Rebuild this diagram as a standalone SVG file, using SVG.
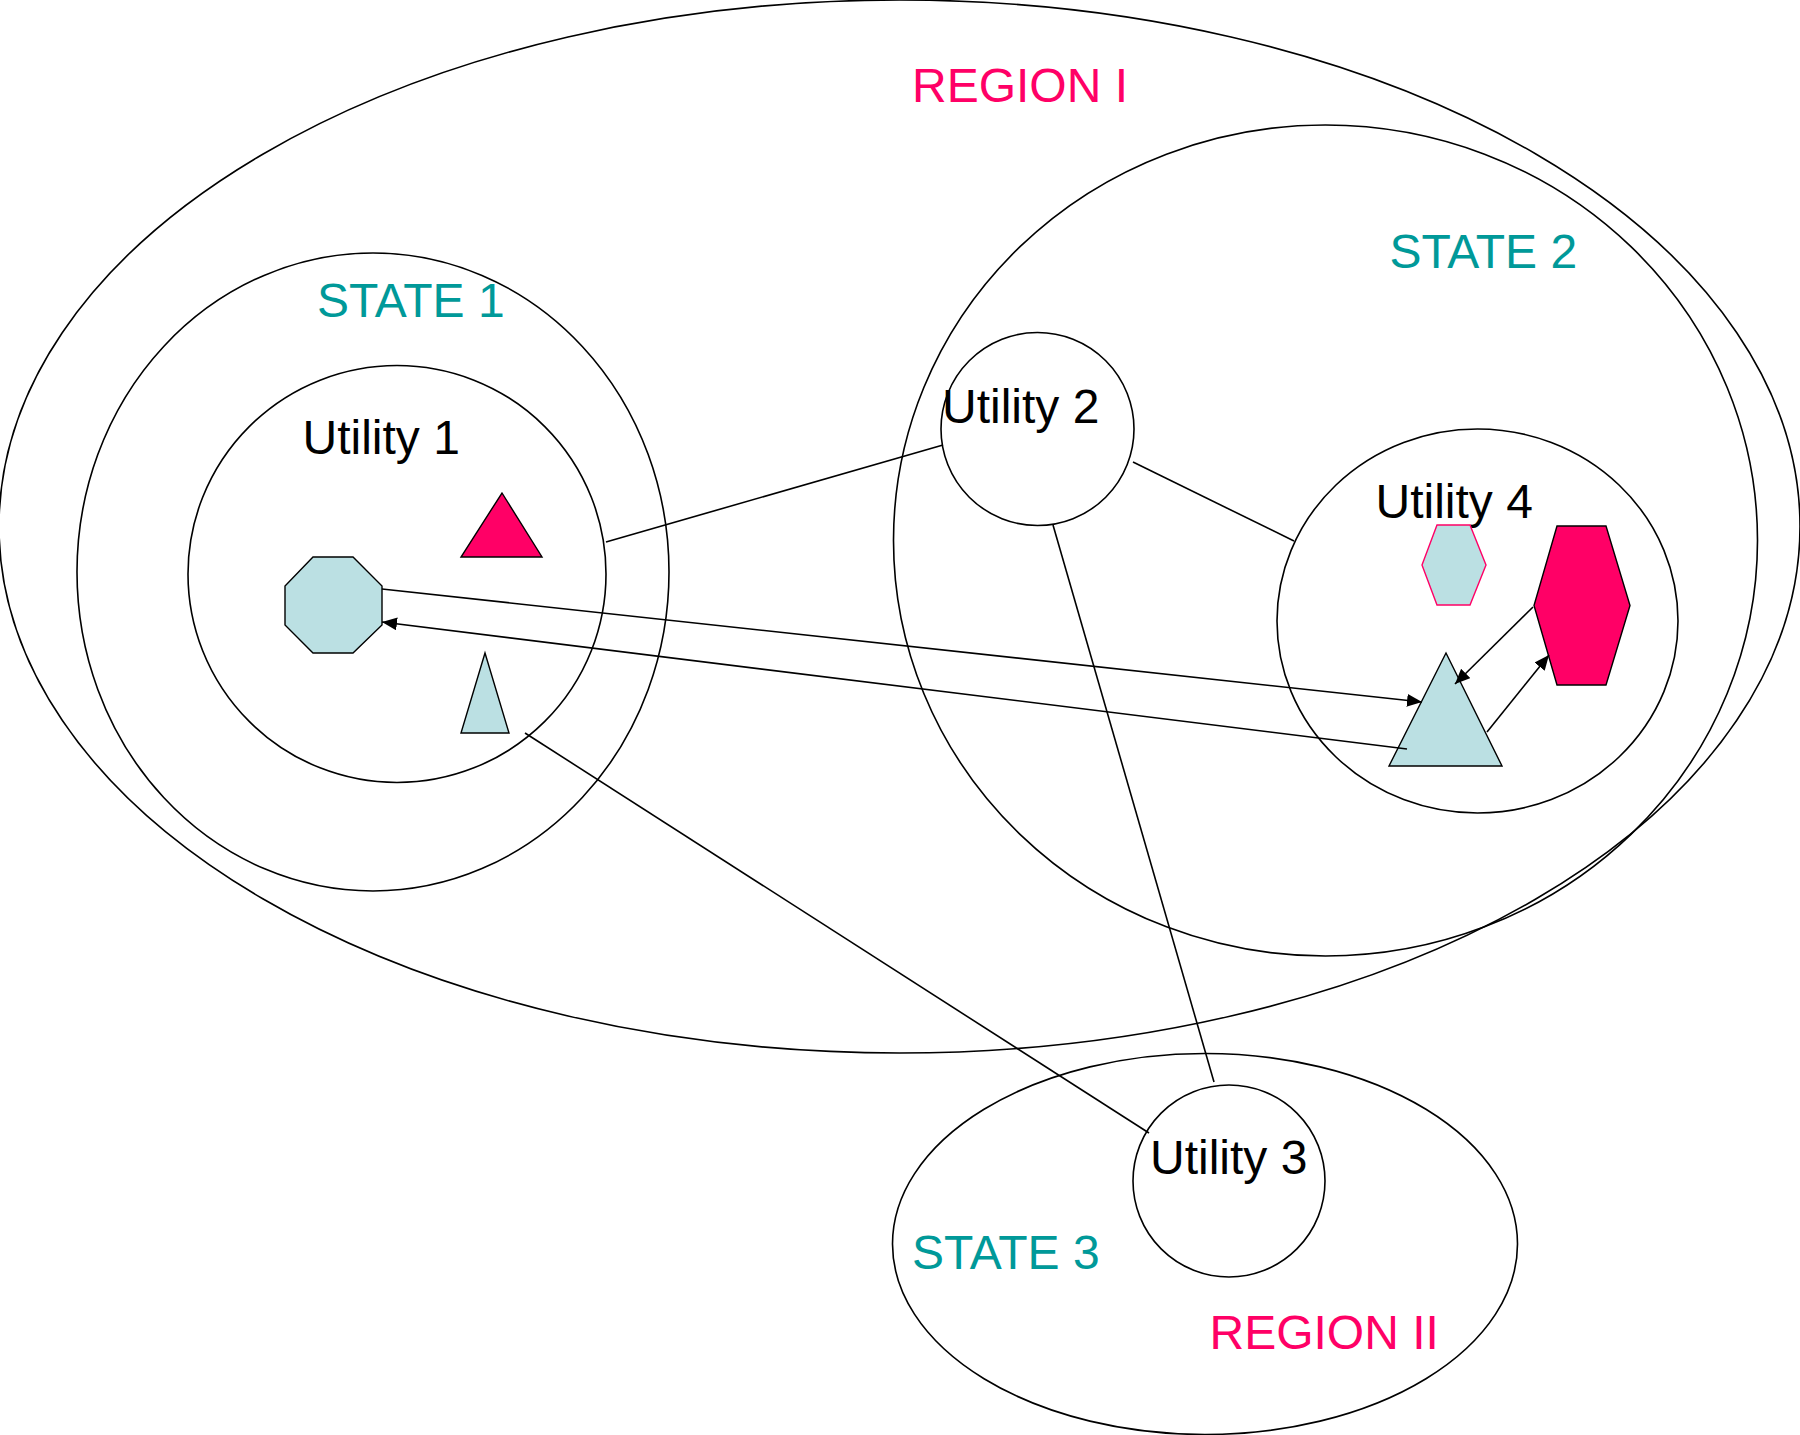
<svg xmlns="http://www.w3.org/2000/svg" width="1800" height="1435" viewBox="0 0 1800 1435">
<style>
.ring{fill:none;stroke:#000;stroke-width:1.6}
.lbl{font-family:"Liberation Sans",Arial,sans-serif;font-size:48px}
.blk{fill:#000}
.teal{fill:#009999}
.pink{fill:#FF0066}
.conn{stroke:#000;stroke-width:1.6;fill:none}
.shape{stroke:#000;stroke-width:1.4}
</style>
<defs>
<marker id="arr" markerUnits="userSpaceOnUse" markerWidth="16" markerHeight="14" refX="15" refY="6.5" orient="auto">
<path d="M0,0 L15,6.5 L0,13 z" fill="#000"/>
</marker>
</defs>
<rect width="1800" height="1435" fill="#fff"/>
<g id="region1">
<ellipse class="ring" cx="899.5" cy="526.5" rx="900.5" ry="526.5"/>
<text class="lbl pink" x="912" y="102">REGION I</text>
</g>
<g id="state1">
<ellipse class="ring" cx="373" cy="572" rx="296" ry="319"/>
<text class="lbl teal" x="317" y="317">STATE 1</text>
</g>
<g id="state2">
<ellipse class="ring" cx="1325.5" cy="540.5" rx="432" ry="415.5"/>
<text class="lbl teal" x="1389.5" y="268">STATE 2</text>
</g>
<g id="region2">
<ellipse class="ring" cx="1205" cy="1244" rx="312.5" ry="190.5"/>
<text class="lbl teal" x="912" y="1269">STATE 3</text>
<text class="lbl pink" x="1209.5" y="1349">REGION II</text>
</g>
<g id="utility1">
<ellipse class="ring" cx="397" cy="574" rx="209" ry="208.5"/>
<text class="lbl blk" x="302.5" y="454">Utility 1</text>
<polygon class="shape" fill="#BBE0E3" points="313,557 353,557 382,586 382,625 353,653 313,653 285,625 285,586"/>
<polygon class="shape" fill="#FF0066" points="502,493 542,557 461,557"/>
<polygon class="shape" fill="#BBE0E3" points="485,653 509,733 461,733"/>
</g>
<g id="utility2">
<circle class="ring" cx="1037.5" cy="429" r="96.5"/>
<text class="lbl blk" x="942" y="423">Utility 2</text>
</g>
<g id="utility3">
<circle class="ring" cx="1229" cy="1181" r="96"/>
<text class="lbl blk" x="1150" y="1174">Utility 3</text>
</g>
<g id="utility4">
<ellipse class="ring" cx="1477.5" cy="621" rx="200.5" ry="192"/>
<text class="lbl blk" x="1375.5" y="518">Utility 4</text>
<polygon fill="#BBE0E3" stroke="#FF0066" stroke-width="1.4" points="1437,525 1470,525 1486,565 1470,605 1437,605 1422,565"/>
<polygon class="shape" fill="#FF0066" points="1557,526 1606,526 1630,605.5 1606,685 1557,685 1534,605.5"/>
<polygon class="shape" fill="#BBE0E3" points="1446,653 1502,766 1389,766"/>
</g>
<g id="connectors">
<line class="conn" x1="606" y1="542" x2="943" y2="445"/>
<line class="conn" x1="1133" y1="462" x2="1294" y2="541"/>
<line class="conn" x1="1053" y1="525" x2="1214" y2="1082"/>
<line class="conn" x1="525" y1="733" x2="1149" y2="1133"/>
<line class="conn" x1="382" y1="589" x2="1422" y2="702" marker-end="url(#arr)"/>
<line class="conn" x1="1407" y1="749" x2="382" y2="622" marker-end="url(#arr)"/>
<line class="conn" x1="1533" y1="607" x2="1455" y2="684" marker-end="url(#arr)"/>
<line class="conn" x1="1487" y1="732" x2="1549" y2="655" marker-end="url(#arr)"/>
</g>
</svg>
